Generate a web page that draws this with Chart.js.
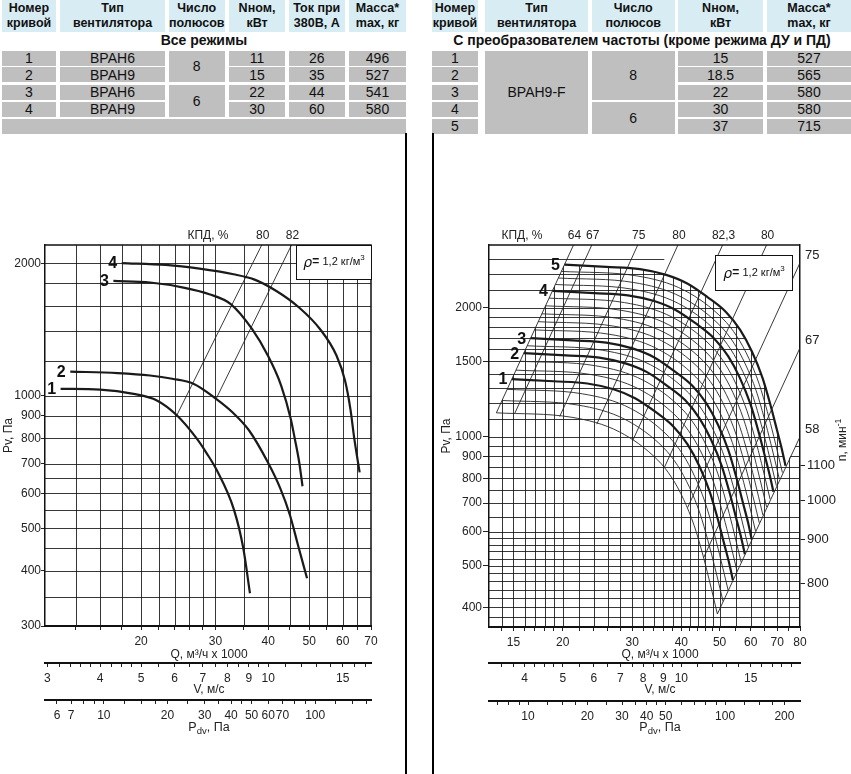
<!DOCTYPE html>
<html><head><meta charset="utf-8">
<script src="https://cdn.jsdelivr.net/npm/chart.js@4.4.1/dist/chart.umd.min.js"></script>
<style>
html,body{margin:0;padding:0;background:#fff;}
body{width:851px;height:774px;position:relative;overflow:hidden;font-family:"Liberation Sans",Arial,sans-serif;}
.cell{position:absolute;display:flex;align-items:center;justify-content:center;text-align:center;box-sizing:border-box;color:#111;}
.hd{background:#d7ecf3;font-family:"Liberation Sans Narrow","Arial Narrow","Liberation Sans",Arial,sans-serif;font-weight:bold;font-size:12.5px;line-height:15px;}
.dt{background:#bfbfbf;font-size:14px;}
.sub{position:absolute;font-weight:bold;font-size:14px;text-align:center;color:#111;}
.vline{position:absolute;background:#000;width:2px;}
canvas{position:absolute;}
</style></head><body>
<div id="tables"></div>
<div class="vline" style="left:405px;top:133px;height:641px"></div>
<div class="vline" style="left:432px;top:133px;height:641px"></div>
<canvas id="cL" width="405" height="634" style="left:0;top:140px;width:405px;height:634px"></canvas>
<canvas id="cR" width="416" height="634" style="left:435px;top:140px;width:416px;height:634px"></canvas>
<script>
// ================= DATA =================
// tables
const tblHeadL = ["Номер\nкривой","Тип\nвентилятора","Число\nполюсов","Nном,\nкВт","Ток при\n380В, А","Масса*\nmax, кг"];
const tblTitleL = "Все режимы";
const tblRowsL = [["1","ВРАН6","11","26","496"],["2","ВРАН9","15","35","527"],["3","ВРАН6","22","44","541"],["4","ВРАН9","30","60","580"]];
const tblPolesL = [["8",0,2],["6",2,4]];
const tblHeadR = ["Номер\nкривой","Тип\nвентилятора","Число\nполюсов","Nном,\nкВт","Масса*\nmax, кг"];
const tblTitleR = "С преобразователем частоты (кроме режима ДУ и ПД)";
const tblRowsR = [["1","15","527"],["2","18.5","565"],["3","22","580"],["4","30","580"],["5","37","715"]];
const tblTypeR = "ВРАН9-F";
const tblPolesR = [["8",0,3],["6",3,5]];

// left chart axes
const qTicksL = [14,16,18,20,22,24,26,28,30,35,40,45,50,55,60,65,70];
const qLabelsL = [20,30,40,50,60,70];
const pGridL = [350,400,450,500,550,600,650,700,800,900,1000,1200,1400,1600,1800,2000];
const pLabelsL = [300,400,500,600,700,800,900,1000,2000];
const vTicksL = [3,3.2,3.4,3.6,3.8,4,4.25,4.5,4.75,5,5.5,6,6.5,7,7.5,8,8.5,9,9.5,10,11,12,13,14,15,16,17];
const vLabelsL = [3,4,5,6,7,8,9,10,15];
const pdTicksL = [6,7,8,9,10,12.5,15,17.5,20,25,30,35,40,45,50,60,70,80,90,100,125,150,175];
const pdLabelsL = [6,7,10,20,30,40,50,60,70,100];

// left chart curves [Q, Pv]
const curveL1 = [[12.9,1037],[16.0,1033],[19.2,1010],[21.8,976],[24.3,903],[27.1,799],[28.6,740],[30.2,678],[33.2,550],[34.9,451],[36.2,356]];
const curveL2 = [[13.6,1135],[17.6,1126],[21.0,1112],[23.7,1093],[26.6,1065],[30.1,984],[33.0,915],[36.0,835],[39.9,706],[42.7,616],[45.0,536],[47.0,459],[49.4,385]];
const curveL3 = [[17.2,1823],[21.0,1808],[25.2,1761],[29.0,1701],[32.6,1615],[36.6,1418],[39.9,1234],[42.9,1055],[45.2,887],[46.2,800],[47.3,710],[48.2,623]];
const curveL4 = [[18.0,2002],[22.9,1982],[27.5,1944],[33.1,1888],[37.0,1838],[41.8,1730],[47.3,1587],[53.0,1418],[58.0,1234],[60.8,1080],[62.6,930],[63.9,800],[65.0,720],[65.8,670]];
const effL80 = [[24.3,903],[38.6,2200]];
const effL82 = [[30.1,984],[45.4,2200]];
const effLabelsL = ["80","82"];

// right chart axes
const qTicksR = [14,15,16,17,18,19,20,22,24,26,28,30,32,34,36,38,40,42,44,46,48,50,55,60,65,70,75,80];
const qGridR = [14,15,16,17,18,19,20,22,24,26,28,30,32,34,36,38,40,42,44,46,48,50,55,60,65,70,75];
const qLabelsR = [15,20,30,40,50,60,70,80];
const pGridR = [380,400,420,440,460,480,500,520,540,560,580,600,650,700,750,800,850,900,950,1000,1100,1200,1300,1400,1500,1600,1700,1800,1900,2000,2200,2400,2600];
const pLabelsR = [400,500,600,700,800,900,1000,1500,2000];
const vTicksR = [3.5,3.75,4,4.25,4.5,4.75,5,5.5,6,6.5,7,7.5,8,8.5,9,9.5,10,11,12,13,14,15,16,17,18,19];
const vLabelsR = [4,5,6,7,8,9,10,15];
const pdTicksR = [7,8,9,10,12.5,15,17.5,20,25,30,35,40,45,50,60,70,80,90,100,125,150,175,200];
const pdLabelsR = [10,20,30,40,50,100,200];
const rpmTicksR = [800,900,1000,1100];

// right chart main curves
const C5 = [[20.2,2520],[25.8,2490],[31.4,2460],[36.6,2385],[41.5,2275],[46.5,2120],[51.9,1955],[56.4,1775],[60.4,1580],[64.2,1375],[67.3,1187],[69.9,1038],[72.0,933],[73.5,856]];
const C4 = [[18.83,2189],[24.05,2163],[29.27,2137],[34.11,2072],[38.68,1976],[43.34,1842],[48.37,1698],[52.57,1542],[56.29,1372],[59.84,1194],[62.72,1031],[65.15,902],[67.10,810],[68.50,744]];
const C3 = [[16.58,1698],[21.18,1678],[25.78,1658],[30.04,1607],[34.07,1533],[38.17,1428],[42.60,1317],[46.30,1196],[49.58,1065],[52.70,927],[55.24,800],[57.38,699],[59.10,629],[60.33,577]];
const C2 = [[15.93,1567],[20.35,1548],[24.76,1530],[28.86,1483],[32.73,1415],[36.67,1318],[40.93,1216],[44.47,1104],[47.63,983],[50.63,855],[53.07,738],[55.12,645],[56.78,580],[57.96,532]];
const C1 = [[14.86,1363],[18.97,1347],[23.09,1331],[26.92,1290],[30.52,1230],[34.20,1147],[38.17,1057],[41.48,960],[44.42,855],[47.22,744],[49.50,642],[51.41,561],[52.95,505],[54.06,463]];
// right chart reduced-speed curves
const T1 = [[19.84,2430],[30.83,2372],[40.75,2194],[50.96,1885],[55.38,1712],[59.31,1524],[63.04,1326],[66.09,1145],[68.64,1001],[72.18,825]];
const T2 = [[19.49,2345],[30.29,2289],[40.03,2117],[50.07,1819],[54.41,1652],[58.27,1470],[61.93,1280],[64.92,1105],[67.43,966],[70.90,797]];
const T3 = [[19.15,2265],[29.77,2211],[39.34,2045],[49.20,1757],[53.47,1595],[57.26,1420],[60.87,1236],[63.80,1067],[66.27,933],[69.68,769]];
const T4 = [[18.46,2105],[28.70,2055],[37.93,1900],[47.44,1633],[51.55,1483],[55.20,1320],[58.68,1149],[61.51,992],[63.89,867],[67.18,715]];
const T5 = [[18.09,2020],[28.11,1972],[37.16,1824],[46.47,1567],[50.50,1423],[54.08,1267],[57.48,1102],[60.26,952],[62.58,832],[65.81,686]];
const T6 = [[17.70,1935],[27.52,1889],[36.37,1747],[45.48,1501],[49.42,1363],[52.93,1213],[56.26,1056],[58.97,912],[61.25,797],[64.41,657]];
const T7 = [[17.33,1855],[26.94,1811],[35.61,1675],[44.53,1439],[48.39,1307],[51.82,1163],[55.08,1012],[57.74,874],[59.97,764],[63.06,630]];
const T8 = [[16.95,1775],[26.35,1733],[34.83,1602],[43.56,1377],[47.34,1250],[50.69,1113],[53.88,969],[56.48,836],[58.67,731],[61.69,603]];
const T9 = [[16.25,1630],[25.25,1591],[33.38,1472],[41.74,1265],[45.36,1148],[48.58,1022],[51.63,889],[54.13,768],[56.22,671],[59.11,554]];
const T10 = [[15.59,1500],[24.23,1464],[32.02,1354],[40.04,1164],[43.51,1057],[46.60,941],[49.53,819],[51.92,707],[53.93,618],[56.71,510]];
const T11 = [[15.22,1430],[23.65,1396],[31.26,1291],[39.10,1109],[42.49,1007],[45.50,897],[48.36,780],[50.70,674],[52.66,589],[55.37,486]];
const T12 = [[14.45,1290],[22.47,1259],[29.69,1165],[37.13,1001],[40.35,909],[43.21,809],[45.93,704],[48.15,608],[50.01,531],[52.59,438]];
const T13 = [[14.03,1215],[21.80,1186],[28.82,1097],[36.04,943],[39.16,856],[41.94,762],[44.58,663],[46.73,572],[48.54,500],[51.04,413]];
const T14 = [[13.57,1137],[21.09,1110],[27.88,1026],[34.86,882],[37.88,801],[40.57,713],[43.12,620],[45.21,536],[46.95,468],[49.37,386]];
// efficiency (КПД) lines, right chart
const effR64 = [[13.57,1137],[21.3,2800]];
const effR67 = [[15.1,1132],[23.7,2800]];
const effR75 = [[19.65,1115],[31.0,2800]];
const effR80a = [[24.4,1070],[39.2,2800]];
const effR823 = [[30.1,980],[50.9,2800]];
const effR80b = [[36.2,847],[65.8,2800]];
const effR75r = [[41.5,684],[80,2545]];
const effR67r = [[45.6,523],[80,1612]];
const effR58 = [[49.37,386],[80,1000]];
const effTopLabelsR = ["64","67","75","80","82,3","80"];
const effSideLabelsR = ["75","67","58"];

// ================= TABLES =================
(function buildTables(){
  const root = document.getElementById('tables');
  const add = (cls, x, y, w, h, txt) => {
    const d = document.createElement('div'); d.className = 'cell ' + cls;
    d.style.left = x + 'px'; d.style.top = y + 'px'; d.style.width = w + 'px'; d.style.height = h + 'px';
    d.innerHTML = txt.replace('\n', '<br>'); root.appendChild(d);
  };
  const sub = (x, w, txt) => { const d = document.createElement('div'); d.className = 'sub';
    d.style.left = x + 'px'; d.style.width = w + 'px'; d.style.top = '32px'; d.textContent = txt; root.appendChild(d); };
  const rowsY = [[50.5,15.5],[67.3,15],[84.5,15.5],[101.5,15.5],[118.5,15]];
  const span = (a, b) => [rowsY[a][0], rowsY[b-1][0] + rowsY[b-1][1] - rowsY[a][0]];
  // left
  const colsL = [[2,54],[60,105],[168.5,56.5],[229,56],[288.5,56.5],[349,57]];
  colsL.forEach((c, i) => add('hd', c[0], 0, c[1], 32, tblHeadL[i]));
  sub(2, 404, tblTitleL);
  tblRowsL.forEach((r, i) => {
    const [y, h] = rowsY[i];
    add('dt', colsL[0][0], y, colsL[0][1], h, r[0]);
    add('dt', colsL[1][0], y, colsL[1][1], h, r[1]);
    add('dt', colsL[3][0], y, colsL[3][1], h, r[2]);
    add('dt', colsL[4][0], y, colsL[4][1], h, r[3]);
    add('dt', colsL[5][0], y, colsL[5][1], h, r[4]);
  });
  tblPolesL.forEach(p => { const [y, h] = span(p[1], p[2]); add('dt', colsL[2][0], y, colsL[2][1], h, p[0]); });
  add('dt', 2, rowsY[4][0], 404, rowsY[4][1], '');
  // right
  const colsR = [[432,46],[485,103],[591.5,83.5],[678,85],[767,84]];
  colsR.forEach((c, i) => add('hd', c[0], 0, c[1], 32, tblHeadR[i]));
  sub(432, 420, tblTitleR);
  tblRowsR.forEach((r, i) => {
    const [y, h] = rowsY[i];
    add('dt', colsR[0][0], y, colsR[0][1], h, r[0]);
    add('dt', colsR[3][0], y, colsR[3][1], h, r[1]);
    add('dt', colsR[4][0], y, colsR[4][1], h, r[2]);
  });
  { const [y, h] = span(0, 5); add('dt', colsR[1][0], y, colsR[1][1], h, tblTypeR); }
  tblPolesR.forEach(p => { const [y, h] = span(p[1], p[2]); add('dt', colsR[2][0], y, colsR[2][1], h, p[0]); });
})();

// ================= CHART HELPERS =================
Chart.defaults.font.family = '"Liberation Sans", Arial, sans-serif';
Chart.defaults.font.size = 12;
Chart.defaults.color = '#222';
const FONT = '"Liberation Sans", Arial, sans-serif';

function logAxis(o) {
  return {
    type: 'logarithmic', position: o.position, min: o.min, max: o.max, weight: o.weight || 0,
    afterBuildTicks: s => { s.ticks = o.ticks.map(v => ({value: v})); },
    afterFit: s => { if (o.height != null) s.height = o.height; if (o.width != null) s.width = o.width; },
    ticks: { autoSkip: false, maxRotation: 0, minRotation: 0, padding: o.pad, color: '#222', font: {size: o.fs || 12},
             callback: v => (o.labels.indexOf(v) >= 0 ? String(v) : '') },
    grid: { display: true, drawOnChartArea: false, drawTicks: true, tickLength: o.tl, color: '#222', lineWidth: 1 },
    border: { display: true, color: '#111', width: o.bw || 1.5 },
    title: o.title ? { display: true, text: o.title, color: '#222', font: {size: 12}, padding: {top: o.tp, bottom: 0} } : { display: false }
  };
}
function ds(arr, w, color) {
  return { data: arr.map(p => ({x: p[0], y: p[1]})), borderColor: color || '#1a1a1a', borderWidth: w,
           pointRadius: 0, fill: false, cubicInterpolationMode: 'monotone', xAxisID: 'x', yAxisID: 'y' };
}
function ln(arr) { return { data: arr.map(p => ({x: p[0], y: p[1]})), borderColor: '#222', borderWidth: 0.9, pointRadius: 0, fill: false, tension: 0, xAxisID: 'x', yAxisID: 'y' }; }
function pix(chart, p) { return [chart.scales.x.getPixelForValue(p[0]), chart.scales.y.getPixelForValue(p[1])]; }
function polyClip(ctx, chart, pts) {
  ctx.beginPath();
  pts.forEach((p, i) => { const [X, Y] = pix(chart, p); if (i) ctx.lineTo(X, Y); else ctx.moveTo(X, Y); });
  ctx.closePath(); ctx.clip();
}
function makeGrid(qGrid, pGrid, clipH, clipV) {
  return { id: 'grid', beforeDatasetsDraw(chart) {
    const {ctx, chartArea: a} = chart; const xs = chart.scales.x, ys = chart.scales.y;
    ctx.save(); ctx.strokeStyle = 'rgba(20,20,20,0.85)'; ctx.lineWidth = 1;
    ctx.save();
    ctx.beginPath(); ctx.rect(a.left, a.top, a.width, a.height); ctx.clip();
    if (clipH) polyClip(ctx, chart, clipH);
    ctx.beginPath();
    pGrid.forEach(v => { const y = Math.round(ys.getPixelForValue(v)) + 0.5; ctx.moveTo(a.left, y); ctx.lineTo(a.right, y); });
    ctx.stroke(); ctx.restore();
    ctx.save();
    ctx.beginPath(); ctx.rect(a.left, a.top, a.width, a.height); ctx.clip();
    if (clipV) polyClip(ctx, chart, clipV);
    ctx.beginPath();
    qGrid.forEach(v => { const x = Math.round(xs.getPixelForValue(v)) + 0.5; ctx.moveTo(x, a.top); ctx.lineTo(x, a.bottom); });
    ctx.stroke(); ctx.restore();
    ctx.restore();
  }};
}
function drawRich(ctx, parts, cx, cy, align) {
  let w = 0; parts.forEach(p => { ctx.font = p.f; p.w = ctx.measureText(p.t).width; w += p.w; });
  let x = align === 'left' ? cx : cx - w / 2;
  ctx.textAlign = 'left'; ctx.textBaseline = 'middle';
  parts.forEach(p => { ctx.font = p.f; ctx.fillText(p.t, x, cy + (p.dy || 0)); x += p.w; });
}
function rhoText(ctx, cx, cy) {
  drawRich(ctx, [
    {t: 'ρ', f: 'italic 14px "DejaVu Sans", sans-serif', dy: 1},
    {t: '= ', f: 'bold 12px ' + FONT},
    {t: '1,2 кг/м', f: '11px ' + FONT},
    {t: '3', f: '8px ' + FONT, dy: -4}], cx, cy);
}
function bottomTitles(ctx, cx, yQ, yV, yP) {
  ctx.fillStyle = '#222';
  drawRich(ctx, [{t: 'Q, м³/ч x 1000', f: '12px ' + FONT}], cx, yQ);
  drawRich(ctx, [{t: 'V, м/с', f: '12px ' + FONT}], cx, yV);
  drawRich(ctx, [{t: 'P', f: '12.5px ' + FONT}, {t: 'dv', f: '9.5px ' + FONT, dy: 3}, {t: ', Па', f: '12.5px ' + FONT}], cx, yP);
}
function curveLabel(ctx, chart, curve, txt) {
  const [X, Y] = pix(chart, curve[0]);
  ctx.font = 'bold 16px ' + FONT; ctx.textAlign = 'center'; ctx.textBaseline = 'middle'; ctx.fillStyle = '#111';
  ctx.fillText(txt, X - 9, Y + 1);
}
function topLabel(ctx, chart, line, txt) {
  const [X] = pix(chart, line[1]);
  ctx.font = '12px ' + FONT; ctx.textAlign = 'center'; ctx.textBaseline = 'middle'; ctx.fillStyle = '#222';
  ctx.fillText(txt, X + 1, chart.chartArea.top - 9);
}

// ================= LEFT CHART =================
const leftDecor = { id: 'decorL', afterDraw(chart) {
  const {ctx, chartArea: a} = chart;
  ctx.save();
  ctx.strokeStyle = '#111'; ctx.lineWidth = 1.5;
  ctx.beginPath(); ctx.moveTo(a.left, a.top); ctx.lineTo(a.right, a.top); ctx.lineTo(a.right, a.bottom); ctx.stroke();
  // rho box
  ctx.fillStyle = '#fff'; ctx.fillRect(a.right - 75, a.top, 75, 34);
  ctx.lineWidth = 1; ctx.strokeRect(a.right - 75 + 0.5, a.top + 0.5, 75, 34);
  ctx.fillStyle = '#111'; rhoText(ctx, a.right - 37, a.top + 17);
  // KPD
  ctx.font = '12px ' + FONT; ctx.textAlign = 'center'; ctx.textBaseline = 'middle'; ctx.fillStyle = '#222';
  ctx.fillText('КПД, %', a.left + 163, a.top - 9);
  topLabel(ctx, chart, effL80, effLabelsL[0]);
  topLabel(ctx, chart, effL82, effLabelsL[1]);
  curveLabel(ctx, chart, curveL1, '1'); curveLabel(ctx, chart, curveL2, '2');
  curveLabel(ctx, chart, curveL3, '3'); curveLabel(ctx, chart, curveL4, '4');
  bottomTitles(ctx, 209, 655 - 140, 690 - 140, 728 - 140);
  ctx.restore();
}};
new Chart(document.getElementById('cL'), {
  type: 'line',
  data: { datasets: [ds(curveL1, 2.2), ds(curveL2, 2.2), ds(curveL3, 2.2), ds(curveL4, 2.2), ln(effL80), ln(effL82)] },
  options: {
    responsive: false, animation: false, events: [],
    layout: { padding: { top: 105, right: 34, left: 0, bottom: 0 } },
    plugins: { legend: { display: false }, tooltip: { enabled: false } },
    scales: {
      x: logAxis({position: 'bottom', min: 11.85, max: 70, ticks: qTicksL, labels: qLabelsL, height: 37, weight: 0, tl: 4, pad: 4, bw: 2}),
      xV: logAxis({position: 'bottom', min: 2.9625, max: 17.5, ticks: vTicksL, labels: vLabelsL, height: 37, weight: 1, tl: 4, pad: 4, bw: 2}),
      xP: logAxis({position: 'bottom', min: 5.266, max: 183.75, ticks: pdTicksL, labels: pdLabelsL, height: 74, weight: 2, tl: 4, pad: 4, bw: 2}),
      y: logAxis({position: 'left', min: 300, max: 2200, ticks: pLabelsL, labels: pLabelsL, width: 45, tl: 4, pad: 0, bw: 1.5, title: 'Pv, Па', tp: 1})
    }
  },
  plugins: [makeGrid(qTicksL.slice(0, -1), pGridL, null, null), leftDecor]
});

// ================= RIGHT CHART =================
const clipH = [[13,360],[13,2700],[36,2700]].concat(C5.slice(3), [[80,1000],[80,360]]);
const clipV = [[13,360],[13,1137],[13.57,1137]].concat(C5, [[80,1000],[80,360]]);
const rightDecor = { id: 'decorR', afterDraw(chart) {
  const {ctx, chartArea: a} = chart;
  ctx.save();
  ctx.strokeStyle = '#111'; ctx.lineWidth = 1.5;
  ctx.beginPath(); ctx.moveTo(a.left, a.top); ctx.lineTo(a.right, a.top); ctx.stroke();
  // rho box
  ctx.fillStyle = '#fff'; ctx.fillRect(a.right - 85, a.top + 10, 77, 35);
  ctx.lineWidth = 1; ctx.strokeRect(a.right - 85 + 0.5, a.top + 10.5, 77, 35);
  ctx.fillStyle = '#111'; rhoText(ctx, a.right - 46, a.top + 28);
  // KPD
  ctx.font = '12px ' + FONT; ctx.textAlign = 'center'; ctx.textBaseline = 'middle'; ctx.fillStyle = '#222';
  ctx.fillText('КПД, %', a.left + 33, a.top - 9);
  [effR64, effR67, effR75, effR80a, effR823, effR80b].forEach((l, i) => topLabel(ctx, chart, l, effTopLabelsR[i]));
  [effR75r, effR67r, effR58].forEach((l, i) => {
    const [, Y] = pix(chart, l[1]);
    ctx.font = '13px ' + FONT; ctx.textAlign = 'left'; ctx.textBaseline = 'middle'; ctx.fillStyle = '#222';
    ctx.fillText(effSideLabelsR[i], a.right + 5, Y - 7);
  });
  // rpm title
  ctx.save(); ctx.translate(408, 300); ctx.rotate(-Math.PI / 2); ctx.fillStyle = '#222';
  drawRich(ctx, [{t: 'n, мин', f: '12px ' + FONT}, {t: '-1', f: '8.5px ' + FONT, dy: -4}], 0, 0);
  ctx.restore();
  curveLabel(ctx, chart, C1, '1'); curveLabel(ctx, chart, C2, '2'); curveLabel(ctx, chart, C3, '3');
  curveLabel(ctx, chart, C4, '4'); curveLabel(ctx, chart, C5, '5');
  bottomTitles(ctx, 660 - 435, 655 - 140, 690 - 140, 728 - 140);
  ctx.restore();
}};
const thin = [T1,T2,T3,T4,T5,T6,T7,T8,T9,T10,T11,T12,T13,T14].map(t => ds(t, 0.9, '#262626'));
new Chart(document.getElementById('cR'), {
  type: 'line',
  data: { datasets: thin.concat([
    ln(effR64), ln(effR67), ln(effR75), ln(effR80a), ln(effR823), ln(effR80b), ln(effR75r), ln(effR67r), ln(effR58),
    ds(C1, 2.2), ds(C2, 2.2), ds(C3, 2.2), ds(C4, 2.2), ds(C5, 2.2)]) },
  options: {
    responsive: false, animation: false, events: [],
    layout: { padding: { top: 105, right: 0, left: 0, bottom: 0 } },
    plugins: { legend: { display: false }, tooltip: { enabled: false } },
    scales: {
      x: logAxis({position: 'bottom', min: 13, max: 80, ticks: qTicksR, labels: qLabelsR, height: 36, weight: 0, tl: 4, pad: 4, bw: 2}),
      xV: logAxis({position: 'bottom', min: 3.25, max: 20, ticks: vTicksR, labels: vLabelsR, height: 38, weight: 1, tl: 4, pad: 4, bw: 2}),
      xP: logAxis({position: 'bottom', min: 6.3375, max: 240, ticks: pdTicksR, labels: pdLabelsR, height: 73, weight: 2, tl: 4, pad: 4, bw: 2}),
      y: logAxis({position: 'left', min: 360, max: 2800, ticks: pLabelsR, labels: pLabelsR, width: 54, tl: 6, pad: 1, bw: 1.5, title: 'Pv, Па', tp: 4}),
      yN: logAxis({position: 'right', min: 712, max: 1986, ticks: rpmTicksR, labels: rpmTicksR, width: 51, tl: 5, pad: 2, bw: 1.5, fs: 13})
    }
  },
  plugins: [makeGrid(qGridR, pGridR, clipH, clipV), rightDecor]
});
</script>
</body></html>
